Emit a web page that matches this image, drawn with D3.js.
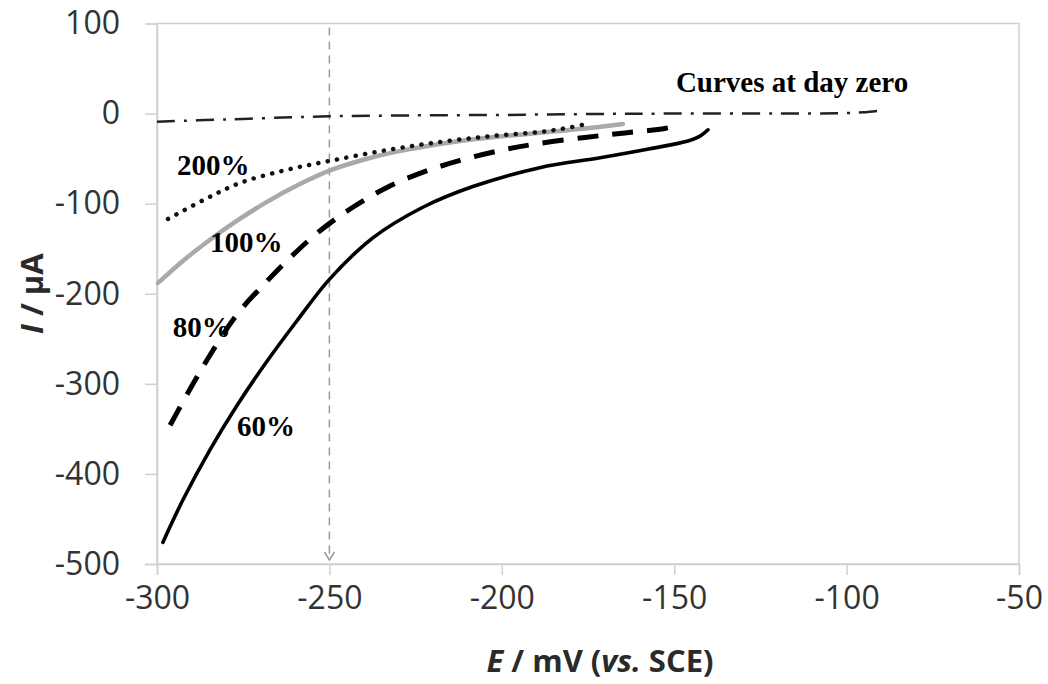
<!DOCTYPE html>
<html>
<head>
<meta charset="utf-8">
<script src="https://cdn.jsdelivr.net/npm/d3@7"></script>
<style>
  html, body { margin: 0; padding: 0; background: #fff; }
  svg { display: block; }
</style>
</head>
<body>
<svg id="chart" width="1048" height="684"></svg>
<script>
// Potential E (mV vs. SCE) and current I (µA) for each polarization curve
const day0E   = [-300, -280, -260, -250, -225, -200, -175, -150, -120, -100, -95, -90];
const day0I   = [-9, -6.5, -4, -3, -2, -1.5, -0.5, 0, 0, 0.5, 1.5, 3.5];

const pct200E = [-296.8, -286, -275.9, -263, -250, -234, -218, -203, -189, -182, -175.3];
const pct200I = [-117, -95, -77, -63, -52.6, -41, -31.5, -25, -20.4, -16.5, -11.6];

const pct100E = [-299.7, -292, -285.5, -277, -268.1, -259, -249.8, -238, -227.5, -214, -200.5, -188.9, -176, -164.9];
const pct100I = [-188, -162, -142.5, -119.5, -98, -79, -63, -49, -40, -31.5, -25.5, -21.3, -16.5, -11.5];

const pct80E  = [-296.2, -290, -284.6, -276.8, -268.1, -261.4, -252.7, -243.2, -233.3, -222.8, -212.1, -200.5, -189.8, -175.9, -164.3, -152.7, -149.8];
const pct80I  = [-346, -303, -268, -223, -186, -160, -130, -104, -82, -65, -52, -41, -33.5, -26.5, -21.5, -16.5, -14];

const pct60E  = [-298.3, -292.5, -284.6, -276.8, -268.1, -259.4, -250, -237.4, -222.9, -208.4, -189, -171.5, -157, -146, -142.5, -140.2];
const pct60I  = [-476, -429, -373, -324, -275, -230, -184, -138, -104, -81, -60, -49, -39, -30.5, -25, -18];

// Axis ticks
const xTicks = [-300, -250, -200, -150, -100, -50];
const yTicks = [100, 0, -100, -200, -300, -400, -500];

// Curve labels (anchored in data units)
const labelText = ["200%", "100%", "80%", "60%", "Curves at day zero"];
const labelE    = [-294.2, -284.6, -295.4, -276.8, -149.5];
const labelI    = [-68.2, -153.6, -248, -357.9, 24];

// Reference potential marked with a dashed drop line
const markE = -250;

const svg = d3.select("#chart");
const plotL = 157, plotR = 1019, plotT = 23.5, plotB = 564;

const x = d3.scaleLinear().domain([-300, -50]).range([plotL, plotR]);
const y = d3.scaleLinear().domain([-500, 100]).range([plotB, plotT]);

const axisColor = "#d0d0d0";
const tickFont = "'Open Sans', sans-serif";
const fmt = d => String(d);   // plain hyphen-minus, as on the printed axes

// Plot-area frame
svg.append("rect")
  .attr("x", plotL).attr("y", plotT)
  .attr("width", plotR - plotL).attr("height", plotB - plotT)
  .attr("fill", "none").attr("stroke", axisColor).attr("stroke-width", 1.5);

// X axis
const xAxis = svg.append("g")
  .attr("transform", `translate(0,${plotB})`)
  .call(d3.axisBottom(x).tickValues(xTicks).tickSize(11).tickPadding(11).tickFormat(fmt));
xAxis.select(".domain").attr("stroke", axisColor).attr("stroke-width", 1.5);
xAxis.selectAll(".tick line").attr("stroke", axisColor).attr("stroke-width", 1.5);
xAxis.selectAll(".tick text")
  .attr("font-family", tickFont).attr("font-size", 32).attr("fill", "#333");

// Y axis
const yAxis = svg.append("g")
  .attr("transform", `translate(${plotL},0)`)
  .call(d3.axisLeft(y).tickValues(yTicks).tickSize(12).tickPadding(25).tickFormat(fmt));
yAxis.select(".domain").attr("stroke", axisColor).attr("stroke-width", 1.5);
yAxis.selectAll(".tick line").attr("stroke", axisColor).attr("stroke-width", 1.5);
yAxis.selectAll(".tick text")
  .attr("font-family", tickFont).attr("font-size", 32).attr("fill", "#333");

// Axis titles
const xTitle = svg.append("text")
  .attr("x", 600).attr("y", 672)
  .attr("text-anchor", "middle")
  .attr("font-family", tickFont).attr("font-size", 31).attr("font-weight", "bold").attr("fill", "#2a2a2a");
xTitle.append("tspan").attr("font-style", "italic").text("E");
xTitle.append("tspan").text(" / mV (");
xTitle.append("tspan").attr("font-style", "italic").text("vs.");
xTitle.append("tspan").text(" SCE)");

const yTitle = svg.append("text")
  .attr("transform", `translate(43,${(plotT + plotB) / 2}) rotate(-90)`)
  .attr("text-anchor", "middle")
  .attr("font-family", tickFont).attr("font-size", 31).attr("font-weight", "bold").attr("fill", "#2a2a2a");
yTitle.append("tspan").attr("font-style", "italic").text("I");
yTitle.append("tspan").text(" / µA");

// Dashed drop line at the marked potential, with an open arrowhead
svg.append("line")
  .attr("x1", x(markE)).attr("x2", x(markE))
  .attr("y1", plotT + 4).attr("y2", plotB - 4)
  .attr("stroke", "#9a9a9a").attr("stroke-width", 1.5)
  .attr("stroke-dasharray", "8,6");
svg.append("path")
  .attr("d", `M${x(markE) - 5},${plotB - 12} L${x(markE)},${plotB - 4} L${x(markE) + 5},${plotB - 12}`)
  .attr("fill", "none").attr("stroke", "#9a9a9a").attr("stroke-width", 1.5);

// Curves
const line = d3.line()
  .x(d => x(d[0]))
  .y(d => y(d[1]))
  .curve(d3.curveCatmullRom.alpha(0.5));

function drawCurve(E, I, style) {
  const pts = E.map((e, i) => [e, I[i]]);
  const p = svg.append("path")
    .datum(pts)
    .attr("d", line)
    .attr("fill", "none")
    .attr("stroke", style.color)
    .attr("stroke-width", style.width)
    .attr("stroke-linecap", style.cap || "butt")
    .attr("stroke-linejoin", "round");
  if (style.dash) p.attr("stroke-dasharray", style.dash);
}

drawCurve(day0E, day0I, { color: "#222", width: 2.5, dash: "18,9,3,9" });
drawCurve(pct100E, pct100I, { color: "#a9a9a9", width: 4.5, cap: "round" });
drawCurve(pct200E, pct200I, { color: "#111", width: 4.5, dash: "0.1,9.4", cap: "round" });
drawCurve(pct80E, pct80I, { color: "#000", width: 5, dash: "21,14" });
drawCurve(pct60E, pct60I, { color: "#000", width: 3.6, cap: "round" });

// Curve labels
svg.selectAll("text.curve-label")
  .data(labelText)
  .enter().append("text")
  .attr("class", "curve-label")
  .attr("x", (d, i) => x(labelE[i]))
  .attr("y", (d, i) => y(labelI[i]))
  .attr("font-family", "'Liberation Serif', 'Times New Roman', serif")
  .attr("font-weight", "bold")
  .attr("font-size", 29)
  .attr("fill", "#000")
  .text(d => d);
</script>
</body>
</html>
